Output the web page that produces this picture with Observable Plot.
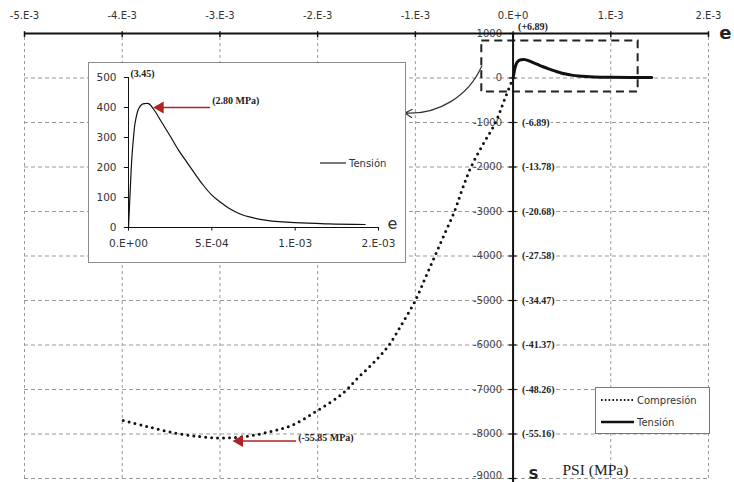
<!DOCTYPE html>
<html><head><meta charset="utf-8">
<script src="https://cdn.jsdelivr.net/npm/d3@7"></script>
<script src="https://cdn.jsdelivr.net/npm/@observablehq/plot@0.6"></script>
<style>
body{margin:0;background:#fff;}
#wrap{position:relative;width:734px;height:482px;overflow:hidden;font-family:"DejaVu Sans",sans-serif;background:#fff;}
#main{position:absolute;left:0;top:0;}
#inset{position:absolute;left:88px;top:62px;width:316px;height:199px;border:1px solid #8c8c8c;background:#fff;}
#inset > svg{position:absolute;left:0;top:0;}
#legend{position:absolute;left:595px;top:387px;width:113px;height:45px;border:1px solid #777;background:#fff;font-size:10px;color:#333;}
.lg{position:absolute;left:4px;height:14px;display:flex;align-items:center;gap:3px;white-space:nowrap;}
#ilegend{position:absolute;left:231px;top:93px;height:14px;font-size:10px;color:#333;white-space:nowrap;display:flex;align-items:center;gap:3px;}
</style></head>
<body>
<div id="wrap">
  <div id="main"></div>
  <div id="inset">
    <div id="ilegend"><svg width="26" height="6"><line x1="0" y1="3" x2="26" y2="3" stroke="#222" stroke-width="1.2"/></svg><span>Tensión</span></div>
  </div>
  <div id="legend">
    <div class="lg" style="top:5px"><svg width="34" height="6"><line x1="1" y1="3" x2="34" y2="3" stroke="#111" stroke-width="2" stroke-dasharray="1.6,2.2"/></svg><span>Compresión</span></div>
    <div class="lg" style="top:27px"><svg width="34" height="6"><line x1="1" y1="3" x2="34" y2="3" stroke="#111" stroke-width="2.4"/></svg><span>Tensión</span></div>
  </div>
</div>
<script>
// ---- data ----
const xTicks = [-5e-3, -4e-3, -3e-3, -2e-3, -1e-3, 0, 1e-3, 2e-3];
const xTickLabels = ["-5.E-3", "-4.E-3", "-3.E-3", "-2.E-3", "-1.E-3", "0.E+0", "1.E-3", "2.E-3"];
const yTicks = [1000, 0, -1000, -2000, -3000, -4000, -5000, -6000, -7000, -8000, -9000];
const yTickLabels = ["1000", "0", "-1000", "-2000", "-3000", "-4000", "-5000", "-6000", "-7000", "-8000", "-9000"];
const mpaValues = [-1000, -2000, -3000, -4000, -5000, -6000, -7000, -8000];
const mpaLabels = ["(-6.89)", "(-13.78)", "(-20.68)", "(-27.58)", "(-34.47)", "(-41.37)", "(-48.26)", "(-55.16)"];
const mpaTop = {value: 1000, label: "(+6.89)"};

const compStrain = [0, -0.09e-3, -0.18e-3, -0.31e-3, -0.43e-3, -0.52e-3, -0.6e-3, -0.7e-3, -0.8e-3, -0.9e-3, -1.0e-3, -1.13e-3, -1.27e-3, -1.42e-3, -1.58e-3, -1.75e-3, -2.0e-3, -2.26e-3, -2.5e-3, -2.75e-3, -2.98e-3, -3.2e-3, -3.46e-3, -3.75e-3, -4.0e-3];
const compStress = [0, -500, -1000, -1500, -2000, -2500, -3000, -3500, -4000, -4500, -5000, -5500, -6000, -6380, -6720, -7100, -7470, -7800, -7955, -8060, -8090, -8060, -7980, -7830, -7690];

const tensStrain = [0, 0.01e-3, 0.02e-3, 0.03e-3, 0.04e-3, 0.06e-3, 0.08e-3, 0.1e-3, 0.12e-3, 0.15e-3, 0.2e-3, 0.25e-3, 0.3e-3, 0.35e-3, 0.4e-3, 0.45e-3, 0.5e-3, 0.55e-3, 0.6e-3, 0.67e-3, 0.75e-3, 0.83e-3, 1.0e-3, 1.2e-3, 1.42e-3];
const tensStress = [0, 120, 230, 300, 350, 395, 410, 413, 413, 395, 350, 305, 258, 218, 178, 140, 108, 85, 65, 45, 32, 24, 16, 12, 10];

const insetXTicks = [0, 5e-4, 1e-3, 1.5e-3];
const insetXTickLabels = ["0.E+00", "5.E-04", "1.E-03", "2.E-03"];
const insetYTicks = [0, 100, 200, 300, 400, 500];

// annotations
const zoomBox = [{x1: -0.32e-3, x2: 1.28e-3, y1: -315, y2: 830}];
const callout = [{x1: -0.32e-3, y1: 270, x2: -1.107e-3, y2: -787}];
const minNote = [{x1: -2.22e-3, x2: -2.80e-3, y: -8157, label: "(-55.85 MPa)"}];
const peakNote = [{x1: 0.49e-3, x2: 0.19e-3, y: 400, label: "(2.80 MPa)"}];
const peakTop = [{y: 500, label: "(3.45)"}];

const comp = compStrain.map((x, i) => ({x, y: compStress[i]}));
const tens = tensStrain.map((x, i) => ({x, y: tensStress[i]}));

const serif = "'Liberation Serif', 'Times New Roman', serif";
const sans = "'DejaVu Sans', sans-serif";

const lastTick = yTicks.length - 1;

// ---- main chart ----
const main = Plot.plot({
  width: 734, height: 482,
  marginLeft: 24, marginRight: 26, marginTop: 33, marginBottom: 4,
  x: {domain: [-5e-3, 2e-3], axis: null},
  y: {domain: [-9000, 1000], axis: null},
  style: {fontFamily: sans, overflow: "visible", background: "white"},
  marks: [
    Plot.ruleX(xTicks.filter(d => d !== 0), {x: d => d, y1: -9000, y2: 1000, stroke: "#9a9a9a", strokeDasharray: "3,3", strokeWidth: 1}),
    Plot.ruleY(yTicks.filter(d => d !== 1000), {y: d => d, x1: -5e-3, x2: 2e-3, stroke: "#9a9a9a", strokeDasharray: "4,3", strokeWidth: 1}),
    Plot.text(yTicks.slice(0, lastTick), {x: 0, y: d => d, text: (d, i) => yTickLabels[i], textAnchor: "end", dx: -11, fontSize: 10, fill: "#444"}),
    Plot.text([yTicks[lastTick]], {x: 0, y: d => d, text: () => yTickLabels[lastTick], textAnchor: "end", dx: -11, dy: -3, fontSize: 10, fill: "#444"}),
    Plot.rect(zoomBox, {x1: "x1", x2: "x2", y1: "y1", y2: "y2", fill: "none", stroke: "#222", strokeWidth: 2, strokeDasharray: "8,5"}),
    Plot.ruleY([1000], {x1: -5e-3, x2: 2e-3, stroke: "#111", strokeWidth: 2}),
    Plot.ruleX([0], {x: d => d, y1: -9200, y2: 1000, stroke: "#111", strokeWidth: 2}),
    Plot.ruleX(xTicks, {x: d => d, y1: 910, y2: 1040, stroke: "#111", strokeWidth: 1.5}),
    Plot.ruleY(yTicks, {y: d => d, x1: -0.04e-3, x2: 0.04e-3, stroke: "#111", strokeWidth: 1.2}),
    Plot.text(xTicks, {x: d => d, y: 1000, text: (d, i) => xTickLabels[i], dy: -18, fontSize: 10, fill: "#333"}),
    Plot.text(mpaValues, {x: 0, y: d => d, text: (d, i) => mpaLabels[i], textAnchor: "start", dx: 9, fontSize: 10, fontWeight: "bold", fontFamily: serif, fill: "#222", stroke: "white", strokeWidth: 3, paintOrder: "stroke"}),
    Plot.text([mpaTop], {x: 0, y: "value", text: "label", textAnchor: "start", dx: 5, dy: -7, fontSize: 10, fontWeight: "bold", fontFamily: serif, fill: "#222"}),
    Plot.line(comp, {x: "x", y: "y", stroke: "#111", strokeWidth: 3, strokeDasharray: "0,6", strokeLinecap: "round", curve: "catmull-rom"}),
    Plot.line(tens, {x: "x", y: "y", stroke: "#111", strokeWidth: 3, curve: "catmull-rom"}),
    Plot.link(minNote, {x1: "x1", x2: "x2", y1: "y", y2: "y", stroke: "#b22222", strokeWidth: 1.5}),
    Plot.dot(minNote, {x: "x2", y: "y", symbol: "triangle", r: 4.5, rotate: -90, fill: "#b22222", stroke: "none"}),
    Plot.text(minNote, {x: "x1", y: "y", text: "label", textAnchor: "start", dx: 2, dy: -3, fontSize: 10, fontWeight: "bold", fontFamily: serif, fill: "#222"}),
    Plot.arrow(callout, {x1: "x1", y1: "y1", x2: "x2", y2: "y2", bend: 35, stroke: "#333", strokeWidth: 1.2, headLength: 10}),
    Plot.text(["e"], {frameAnchor: "top-right", dx: 23, dy: 0, lineAnchor: "middle", fontSize: 18, fontWeight: "bold", fill: "#222"}),
    Plot.text(["S"], {frameAnchor: "bottom-left", dx: 504, dy: -4, lineAnchor: "middle", fontSize: 14, fontWeight: "bold", fill: "#222"}),
    Plot.text(["PSI (MPa)"], {frameAnchor: "bottom-left", dx: 538, dy: -8, textAnchor: "start", lineAnchor: "middle", fontSize: 15.5, fontFamily: serif, fill: "#222"})
  ]
});
document.getElementById("main").appendChild(main);

// ---- inset chart ----
const inset = Plot.plot({
  width: 316, height: 199,
  marginLeft: 39, marginRight: 27, marginTop: 14, marginBottom: 35,
  x: {domain: [0, 1.5e-3], axis: null},
  y: {domain: [0, 500], axis: null},
  style: {fontFamily: sans, overflow: "visible"},
  marks: [
    Plot.ruleY([0], {x1: 0, x2: 1.5e-3, stroke: "#111", strokeWidth: 1}),
    Plot.ruleX([0], {x: d => d, y1: 0, y2: 500, stroke: "#111", strokeWidth: 1}),
    Plot.ruleY(insetYTicks, {y: d => d, x1: -0.025e-3, x2: 0, stroke: "#111"}),
    Plot.ruleX(insetXTicks, {x: d => d, y1: 0, y2: -12, stroke: "#111"}),
    Plot.text(insetYTicks, {x: 0, y: d => d, text: d => String(d), textAnchor: "end", dx: -12, fontSize: 10.5, fill: "#333"}),
    Plot.text(insetXTicks, {x: d => d, y: 0, text: (d, i) => insetXTickLabels[i], dy: 16, fontSize: 10.5, fill: "#333"}),
    Plot.line(tens, {x: "x", y: "y", stroke: "#111", strokeWidth: 1.2, curve: "catmull-rom"}),
    Plot.link(peakNote, {x1: "x1", x2: "x2", y1: "y", y2: "y", stroke: "#b22222", strokeWidth: 1.5}),
    Plot.dot(peakNote, {x: "x2", y: "y", symbol: "triangle", r: 4.5, rotate: -90, fill: "#b22222", stroke: "none"}),
    Plot.text(peakNote, {x: "x1", y: "y", text: "label", textAnchor: "start", dx: 2, dy: -7, fontSize: 10, fontWeight: "bold", fontFamily: serif, fill: "#222"}),
    Plot.text(peakTop, {x: 0, y: "y", text: "label", textAnchor: "start", dx: 2, dy: -4, fontSize: 10, fontWeight: "bold", fontFamily: serif, fill: "#222"}),
    Plot.text(["e"], {x: 1.5e-3, y: 0, text: d => d, dx: 14, dy: -4, fontSize: 16, fill: "#333"})
  ]
});
document.getElementById("inset").insertBefore(inset, document.getElementById("ilegend"));
</script>
</body></html>
